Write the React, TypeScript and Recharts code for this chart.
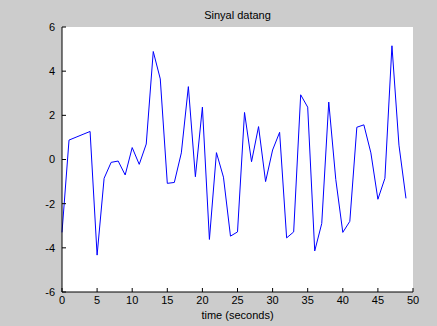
import { LineChart, Line, XAxis, YAxis, CartesianGrid } from 'recharts';

const time = [
  0, 1, 2, 3, 4, 5, 6, 7, 8, 9, 10, 11, 12, 13, 14, 15, 16, 17, 18, 19, 20, 21, 22, 23, 24,
  25, 26, 27, 28, 29, 30, 31, 32, 33, 34, 35, 36, 37, 38, 39, 40, 41, 42, 43, 44, 45, 46, 47, 48, 49,
];

const signal = [
  -3.3, 0.88, 1.01, 1.14, 1.27, -4.33, -0.85, -0.13, -0.07, -0.7, 0.54, -0.22, 0.7, 4.89, 3.65,
  -1.08, -1.04, 0.3, 3.3, -0.78, 2.37, -3.62, 0.31, -0.8, -3.47, -3.28, 2.13, -0.1, 1.49, -1.0,
  0.43, 1.23, -3.55, -3.28, 2.93, 2.37, -4.14, -2.9, 2.6, -0.9, -3.3, -2.8, 1.46, 1.57, 0.3,
  -1.8, -0.85, 5.15, 0.65, -1.76,
];

const xTicks = [0, 5, 10, 15, 20, 25, 30, 35, 40, 45, 50];
const yTicks = [-6, -4, -2, 0, 2, 4, 6];

const data = time.map((t, i) => ({ t, v: signal[i] }));

const font = '"Liberation Sans", Arial, sans-serif';
const TICK = 4;

const BottomTick = (props: any) => {
  const { x, y, payload } = props;
  const axisY = y - 4;
  return (
    <g>
      <line x1={x} x2={x} y1={axisY} y2={axisY - TICK} stroke="#000" />
      <text x={x} y={y} dy="0.71em" textAnchor="middle" fontSize={11} fontFamily={font} fill="#000">
        {payload.value}
      </text>
    </g>
  );
};

const LeftTick = (props: any) => {
  const { x, y, payload } = props;
  const axisX = x + 7;
  return (
    <g>
      <line x1={axisX} x2={axisX + TICK} y1={y} y2={y} stroke="#000" />
      <text x={x} y={y} dy="0.355em" textAnchor="end" fontSize={11} fontFamily={font} fill="#000">
        {payload.value}
      </text>
    </g>
  );
};

const TopTick = (props: any) => {
  const { x, y } = props;
  return <line x1={x} x2={x} y1={y} y2={y + TICK} stroke="#000" />;
};

const RightTick = (props: any) => {
  const { x, y } = props;
  return <line x1={x} x2={x - TICK} y1={y} y2={y} stroke="#000" />;
};

export default function App() {
  return (
    <div
      style={{
        position: 'fixed',
        left: 0,
        top: 0,
        width: 437,
        height: 326,
        background: '#cccccc',
      }}
    >
      <div
        style={{
          position: 'absolute',
          left: 62,
          width: 351,
          top: 8,
          textAlign: 'center',
          fontSize: 11,
          lineHeight: '14px',
          fontFamily: font,
          color: '#000',
        }}
      >
        Sinyal datang
      </div>
      <LineChart width={437} height={326} data={data} margin={{ top: 27, right: 24, bottom: 0, left: 22 }}>
        <CartesianGrid horizontal={false} vertical={false} fill="#ffffff" />
        <XAxis
          dataKey="t"
          type="number"
          domain={[0, 50]}
          ticks={xTicks}
          interval={0}
          height={34}
          tickSize={0}
          tickMargin={4}
          tick={<BottomTick />}
          axisLine={{ stroke: '#000' }}
          label={{ value: 'time (seconds)', position: 'insideBottom', offset: 7, fontSize: 11, fontFamily: font, fill: '#000' }}
        />
        <XAxis
          xAxisId="top"
          orientation="top"
          dataKey="t"
          type="number"
          domain={[0, 50]}
          ticks={xTicks}
          interval={0}
          height={0}
          tickSize={0}
          tickMargin={0}
          tick={<TopTick />}
          axisLine={{ stroke: '#000' }}
        />
        <YAxis
          type="number"
          domain={[-6, 6]}
          ticks={yTicks}
          interval={0}
          width={40}
          tickSize={0}
          tickMargin={7}
          tick={<LeftTick />}
          axisLine={{ stroke: '#000' }}
        />
        <YAxis
          yAxisId="right"
          orientation="right"
          type="number"
          domain={[-6, 6]}
          ticks={yTicks}
          interval={0}
          width={0}
          tickSize={0}
          tickMargin={0}
          tick={<RightTick />}
          axisLine={{ stroke: '#000' }}
        />
        <Line
          dataKey="v"
          type="linear"
          stroke="#0000ff"
          strokeWidth={1}
          dot={false}
          isAnimationActive={false}
        />
      </LineChart>
    </div>
  );
}
